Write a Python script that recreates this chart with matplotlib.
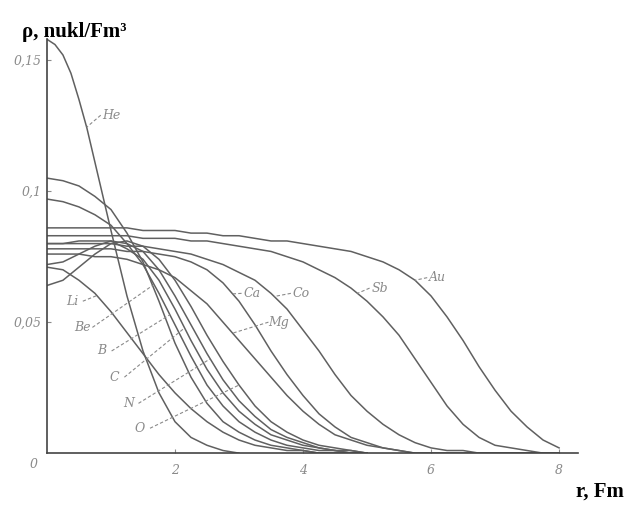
import numpy as np
import matplotlib
matplotlib.use("Agg")
import matplotlib.pyplot as plt

# radius grids (Fm) at which the curves were read
r_he = [0, 0.125, 0.25, 0.375, 0.5, 0.625, 0.75, 0.875, 1.0, 1.25, 1.5,
        1.75, 2.0, 2.25, 2.5, 2.75, 3.0]
r_light = np.arange(0, 5.01, 0.25)
r_heavy = np.arange(0, 8.01, 0.25)

# nucleon density (nukl/Fm^3)
rho_he = [0.158, 0.156, 0.152, 0.145, 0.135, 0.124, 0.111, 0.098, 0.085,
          0.060, 0.039, 0.023, 0.012, 0.006, 0.003, 0.001, 0.0]

rho_li = [0.071, 0.070, 0.066, 0.061, 0.054, 0.046, 0.038, 0.030, 0.023,
          0.017, 0.012, 0.008, 0.005, 0.003, 0.002, 0.001, 0.001, 0, 0, 0, 0]
rho_be = [0.105, 0.104, 0.102, 0.098, 0.093, 0.084, 0.073, 0.058, 0.042,
          0.029, 0.019, 0.012, 0.008, 0.005, 0.003, 0.002, 0.001, 0, 0, 0, 0]
rho_b = [0.097, 0.096, 0.094, 0.091, 0.087, 0.080, 0.072, 0.061, 0.049,
         0.037, 0.026, 0.018, 0.012, 0.008, 0.005, 0.003, 0.002, 0.001,
         0.001, 0, 0]
rho_c = [0.080, 0.080, 0.081, 0.081, 0.081, 0.078, 0.074, 0.066, 0.055,
         0.043, 0.032, 0.023, 0.016, 0.011, 0.007, 0.005, 0.003, 0.002,
         0.001, 0, 0]
rho_n = [0.072, 0.073, 0.076, 0.079, 0.081, 0.080, 0.077, 0.070, 0.060,
         0.049, 0.038, 0.028, 0.020, 0.014, 0.009, 0.006, 0.004, 0.002,
         0.001, 0.001, 0]
rho_o = [0.064, 0.066, 0.071, 0.076, 0.080, 0.081, 0.079, 0.074, 0.066,
         0.056, 0.045, 0.035, 0.026, 0.018, 0.012, 0.008, 0.005, 0.003,
         0.002, 0.001, 0]

rho_mg = [0.076, 0.076, 0.076, 0.075, 0.075, 0.074, 0.072, 0.070, 0.067,
          0.062, 0.057, 0.050, 0.043, 0.036, 0.029, 0.022, 0.016, 0.011,
          0.007, 0.005, 0.003, 0.002, 0.001, 0, 0, 0, 0, 0, 0, 0, 0, 0, 0]
rho_ca = [0.078, 0.078, 0.078, 0.078, 0.078, 0.077, 0.077, 0.076, 0.075,
          0.073, 0.070, 0.065, 0.058, 0.049, 0.039, 0.030, 0.022, 0.015,
          0.010, 0.006, 0.004, 0.002, 0.001, 0, 0, 0, 0, 0, 0, 0, 0, 0, 0]
rho_co = [0.080, 0.080, 0.080, 0.080, 0.080, 0.079, 0.079, 0.078, 0.077,
          0.076, 0.074, 0.072, 0.069, 0.066, 0.061, 0.055, 0.047, 0.039,
          0.030, 0.022, 0.016, 0.011, 0.007, 0.004, 0.002, 0.001, 0.001,
          0, 0, 0, 0, 0, 0]
rho_sb = [0.083, 0.083, 0.083, 0.083, 0.083, 0.083, 0.082, 0.082, 0.082,
          0.081, 0.081, 0.080, 0.079, 0.078, 0.077, 0.075, 0.073, 0.070,
          0.067, 0.063, 0.058, 0.052, 0.045, 0.036, 0.027, 0.018, 0.011,
          0.006, 0.003, 0.002, 0.001, 0, 0]
rho_au = [0.086, 0.086, 0.086, 0.086, 0.086, 0.086, 0.085, 0.085, 0.085,
          0.084, 0.084, 0.083, 0.083, 0.082, 0.081, 0.081, 0.080, 0.079,
          0.078, 0.077, 0.075, 0.073, 0.070, 0.066, 0.060, 0.052, 0.043,
          0.033, 0.024, 0.016, 0.010, 0.005, 0.002]

# label text, label position (r, rho), r where the pointer meets the curve
labels = [
    ("He", 1.0, 0.129, 0.62, r_he, rho_he),
    ("Li", 0.40, 0.058, 0.78, r_light, rho_li),
    ("Be", 0.55, 0.048, 1.65, r_light, rho_be),
    ("B", 0.85, 0.039, 1.92, r_light, rho_b),
    ("C", 1.05, 0.029, 2.15, r_light, rho_c),
    ("N", 1.27, 0.019, 2.55, r_light, rho_n),
    ("O", 1.45, 0.0095, 3.0, r_light, rho_o),
    ("Ca", 3.2, 0.061, 2.9, r_heavy, rho_ca),
    ("Mg", 3.62, 0.050, 2.9, r_heavy, rho_mg),
    ("Co", 3.97, 0.061, 3.55, r_heavy, rho_co),
    ("Sb", 5.2, 0.063, 4.85, r_heavy, rho_sb),
    ("Au", 6.1, 0.067, 5.75, r_heavy, rho_au),
]

line_col = "#606060"
text_col = "#8a8a8a"

fig = plt.figure(figsize=(6.26, 5.08), dpi=100)
ax = fig.add_axes([0.075, 0.108, 0.859, 0.825])

curves = [(r_he, rho_he), (r_light, rho_li), (r_light, rho_be),
          (r_light, rho_b), (r_light, rho_c), (r_light, rho_n),
          (r_light, rho_o), (r_heavy, rho_mg), (r_heavy, rho_ca),
          (r_heavy, rho_co), (r_heavy, rho_sb), (r_heavy, rho_au)]
for rr, dd in curves:
    ax.plot(rr, dd, color=line_col, lw=1.1)

for name, lx, ly, rc, rr, dd in labels:
    yc = np.interp(rc, rr, dd)
    if lx < rc:
        x0 = lx + 0.16
    else:
        x0 = lx - 0.16
    ax.plot([x0, rc], [ly, yc], color=text_col, lw=0.8, ls=(0, (3, 2)))
    ax.text(lx, ly, name, color=text_col, fontsize=9, style="italic",
            family="DejaVu Serif", ha="center", va="center")

ax.set_xlim(0, 8.4)
ax.set_ylim(0, 0.16)
for s in ["top", "right"]:
    ax.spines[s].set_visible(False)
ax.spines["left"].set_bounds(0, 0.158)
ax.spines["bottom"].set_bounds(0, 8.3)
for s in ["left", "bottom"]:
    ax.spines[s].set_linestyle((0, (1, 1)))
    ax.spines[s].set_color("#444444")
    ax.spines[s].set_linewidth(1.2)

ax.set_xticks([2, 4, 6, 8])
ax.set_xticklabels(["2", "4", "6", "8"])
ax.set_yticks([0.05, 0.1, 0.15])
ax.set_yticklabels(["0,05", "0,1", "0,15"])
ax.tick_params(axis="x", direction="in", length=3, color=text_col,
               labelcolor=text_col, labelsize=9, pad=8)
ax.tick_params(axis="y", direction="in", length=3, color=text_col,
               labelcolor=text_col, labelsize=9, pad=4)
for t in ax.get_xticklabels() + ax.get_yticklabels():
    t.set_fontstyle("italic")
    t.set_family("DejaVu Serif")
ax.text(-0.15, -0.002, "0", color=text_col, fontsize=9, style="italic",
        family="DejaVu Serif", ha="right", va="top")

fig.text(0.035, 0.927, "ρ, nukl/Fm³", fontsize=15, fontweight="bold",
         family="Liberation Serif", ha="left", va="baseline")
fig.text(0.997, 0.012, "r, Fm", fontsize=15, fontweight="bold",
         family="Liberation Serif", ha="right", va="bottom")

fig.savefig("out.png", dpi=100)
